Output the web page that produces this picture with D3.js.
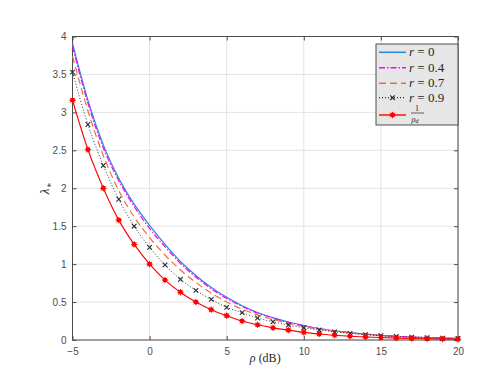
<!DOCTYPE html>
<meta charset="utf-8">
<html>
<head>
  <style>
    body { margin: 0; background: #fff; }
    svg { width: 496px; height: 372px; display: block; }
    .line { fill: none; }
    .tick-label { font-family: Helvetica, Arial, "Liberation Sans", sans-serif; font-size: 10px; fill: #4d4d4d; }
    .math { font-family: "Liberation Serif", "DejaVu Serif", serif; fill: #262626; }
  </style>
  <script src="https://d3js.org/d3.v7.min.js"></script>
</head>
<body>
  <svg></svg>
  <script>
    // SNR in dB
    var rhoDb = [-5, -4, -3, -2, -1, 0, 1, 2, 3, 4, 5, 6, 7, 8, 9, 10, 11, 12, 13, 14, 15, 16, 17, 18, 19, 20];

    // lambda_* curves
    var lamR0  = [3.91, 3.16, 2.57, 2.13, 1.79, 1.51, 1.26, 1.035, 0.851, 0.692, 0.562, 0.452, 0.363, 0.295, 0.237, 0.191, 0.152, 0.122, 0.097, 0.078, 0.062, 0.049, 0.039, 0.031, 0.025, 0.020];
    var lamR04 = [3.87, 3.12, 2.53, 2.10, 1.76, 1.47, 1.23, 1.01, 0.830, 0.675, 0.548, 0.442, 0.355, 0.289, 0.232, 0.187, 0.149, 0.120, 0.0955, 0.0762, 0.0608, 0.0485, 0.0387, 0.0308, 0.0245, 0.0195];
    var lamR07 = [3.74, 3.02, 2.43, 1.97, 1.62, 1.35, 1.12, 0.923, 0.759, 0.617, 0.501, 0.407, 0.331, 0.269, 0.219, 0.178, 0.144, 0.116, 0.093, 0.075, 0.060, 0.048, 0.0385, 0.0308, 0.0245, 0.0196];
    var lamR09 = [3.53, 2.84, 2.30, 1.855, 1.50, 1.22, 0.99, 0.80, 0.654, 0.535, 0.43, 0.36, 0.29, 0.24, 0.197, 0.162, 0.132, 0.107, 0.087, 0.071, 0.057, 0.046, 0.037, 0.030, 0.024, 0.019];
    var invRho = [3.16, 2.51, 2.00, 1.58, 1.26, 1.00, 0.79, 0.63, 0.50, 0.40, 0.32, 0.25, 0.20, 0.16, 0.13, 0.10, 0.079, 0.063, 0.050, 0.040, 0.032, 0.025, 0.020, 0.016, 0.013, 0.010];

    var xTicks = [-5, 0, 5, 10, 15, 20];
    var yTicks = [0, 0.5, 1, 1.5, 2, 2.5, 3, 3.5, 4];
    var legendLabels = ["0", "0.4", "0.7", "0.9"];

    var svg = d3.select("svg");
    var margin = {top: 36.5, right: 38, bottom: 32, left: 72.5};
    var width = 496 - margin.left - margin.right;
    var height = 372 - margin.top - margin.bottom;

    var x = d3.scaleLinear().domain([-5, 20]).range([0, width]);
    var y = d3.scaleLinear().domain([0, 4]).range([height, 0]);

    var g = svg.append("g")
      .attr("transform", "translate(" + margin.left + "," + margin.top + ")");

    // grid
    g.append("g").selectAll("line").data(xTicks).enter().append("line")
      .attr("x1", function(d) { return x(d); }).attr("x2", function(d) { return x(d); })
      .attr("y1", 0).attr("y2", height)
      .attr("stroke", "#e3e3e3").attr("stroke-width", 1);
    g.append("g").selectAll("line").data(yTicks).enter().append("line")
      .attr("y1", function(d) { return y(d); }).attr("y2", function(d) { return y(d); })
      .attr("x1", 0).attr("x2", width)
      .attr("stroke", "#e3e3e3").attr("stroke-width", 1);

    // axes, matlab style: ticks inward on all four sides
    function styleAxis(sel) {
      sel.select(".domain").remove();
      sel.selectAll(".tick line").attr("stroke", "#4d4d4d");
      sel.selectAll(".tick text").attr("class", "tick-label").attr("fill", null);
    }
    g.append("g").attr("transform", "translate(0," + height + ")")
      .call(d3.axisBottom(x).tickValues(xTicks).tickSizeInner(-4).tickPadding(8).tickFormat(d3.format("d")))
      .call(styleAxis);
    g.append("g")
      .call(d3.axisTop(x).tickValues(xTicks).tickSizeInner(-4).tickFormat(""))
      .call(styleAxis);
    g.append("g")
      .call(d3.axisLeft(y).tickValues(yTicks).tickSizeInner(-4).tickPadding(6).tickFormat(function(d) { return d; }))
      .call(styleAxis);
    g.append("g").attr("transform", "translate(" + width + ",0)")
      .call(d3.axisRight(y).tickValues(yTicks).tickSizeInner(-4).tickFormat(""))
      .call(styleAxis);

    g.append("rect")
      .attr("width", width).attr("height", height)
      .attr("fill", "none").attr("stroke", "#4d4d4d").attr("stroke-width", 1);

    // series
    var series = [
      {vals: lamR0,  color: "#2c87d2", dash: null,      width: 1.2},
      {vals: lamR04, color: "#ff00ff", dash: "6,2,1.5,2", width: 1.2},
      {vals: lamR07, color: "#e0743f", dash: "7,4",     width: 1.2},
      {vals: lamR09, color: "#333333", dash: "1,2",     width: 1},
      {vals: invRho, color: "#ff0000", dash: null,      width: 1.1}
    ];

    var line = d3.line()
      .x(function(d) { return x(d[0]); })
      .y(function(d) { return y(d[1]); })
      .curve(d3.curveMonotoneX);

    series.forEach(function(s) {
      g.append("path")
        .attr("class", "line")
        .attr("d", line(d3.zip(rhoDb, s.vals)))
        .attr("stroke", s.color)
        .attr("stroke-width", s.width)
        .attr("stroke-dasharray", s.dash);
    });

    function crossMarker(sel, cx, cy) {
      sel.append("path")
        .attr("d", "M" + (cx - 2.3) + "," + (cy - 2.3) + "L" + (cx + 2.3) + "," + (cy + 2.3) +
                   "M" + (cx - 2.3) + "," + (cy + 2.3) + "L" + (cx + 2.3) + "," + (cy - 2.3))
        .attr("stroke", "#2a2a2a").attr("stroke-width", 1.1).attr("fill", "none");
    }
    function starMarker(sel, cx, cy) {
      sel.append("circle").attr("cx", cx).attr("cy", cy).attr("r", 2.4).attr("fill", "#ff0000");
      sel.append("path")
        .attr("d", "M" + (cx - 3.2) + "," + cy + "L" + (cx + 3.2) + "," + cy +
                   "M" + cx + "," + (cy - 3.2) + "L" + cx + "," + (cy + 3.2) +
                   "M" + (cx - 2.3) + "," + (cy - 2.3) + "L" + (cx + 2.3) + "," + (cy + 2.3) +
                   "M" + (cx - 2.3) + "," + (cy + 2.3) + "L" + (cx + 2.3) + "," + (cy - 2.3))
        .attr("stroke", "#ff0000").attr("stroke-width", 0.9);
    }

    var mk = g.append("g");
    rhoDb.forEach(function(r, i) {
      crossMarker(mk, x(r), y(lamR09[i]));
      starMarker(mk, x(r), y(invRho[i]));
    });

    // axis labels
    svg.append("text")
      .attr("class", "math")
      .attr("x", margin.left + width / 2).attr("y", 362)
      .attr("text-anchor", "middle").attr("font-size", 12)
      .html("<tspan font-style='italic'>ρ</tspan> (dB)");

    svg.append("text")
      .attr("class", "math")
      .attr("transform", "translate(49," + (margin.top + height / 2) + ") rotate(-90)")
      .attr("text-anchor", "middle").attr("font-size", 13)
      .html("<tspan font-style='italic'>λ</tspan><tspan font-size='9' dy='3'>∗</tspan>");

    // legend
    var lg = svg.append("g").attr("transform", "translate(376,44)");
    lg.append("rect").attr("width", 82).attr("height", 81)
      .attr("fill", "#e6e6e6").attr("stroke", "#262626").attr("stroke-width", 0.8);

    var rowY = [8.3, 23.7, 39.3, 53.7];
    series.forEach(function(s, i) {
      var yy = i < 4 ? rowY[i] : 71;
      lg.append("line").attr("x1", 3).attr("x2", 30).attr("y1", yy).attr("y2", yy)
        .attr("stroke", s.color).attr("stroke-width", s.width + 0.3).attr("stroke-dasharray", s.dash);
      if (i < 4) {
        lg.append("text").attr("class", "math").attr("x", 33).attr("y", yy + 4)
          .attr("font-size", 13)
          .html("<tspan font-style='italic'>r</tspan> = " + legendLabels[i]);
      }
    });
    crossMarker(lg, 16.5, rowY[3]);
    starMarker(lg, 16.5, 71);

    // 1 / rho_d
    lg.append("text").attr("class", "math").attr("x", 41).attr("y", 67)
      .attr("text-anchor", "middle").attr("font-size", 8).text("1");
    lg.append("line").attr("x1", 35).attr("x2", 48).attr("y1", 69).attr("y2", 69)
      .attr("stroke", "#262626").attr("stroke-width", 0.7);
    lg.append("text").attr("class", "math").attr("x", 35.5).attr("y", 77.5)
      .attr("font-size", 8.5)
      .html("<tspan font-style='italic'>ρ</tspan><tspan font-style='italic' font-size='6' dy='1.5'>d</tspan>");
  </script>
</body>
</html>
